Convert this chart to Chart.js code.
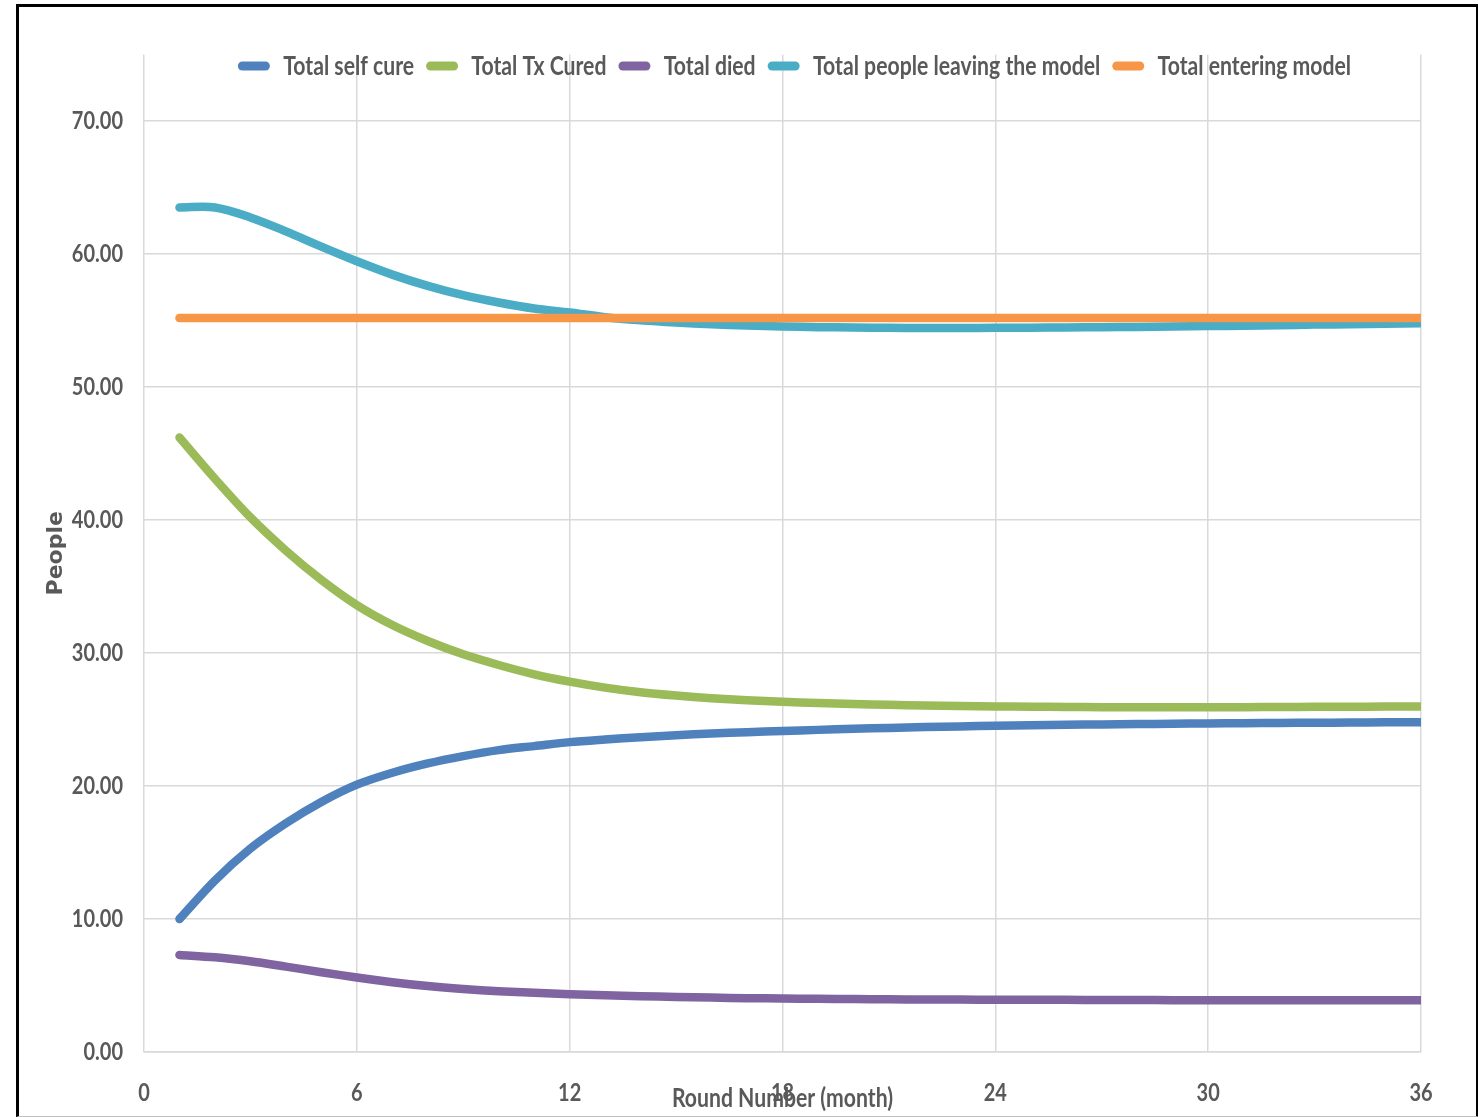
<!DOCTYPE html>
<html>
<head>
<meta charset="utf-8">
<script src="https://cdn.jsdelivr.net/npm/chart.js@4/dist/chart.umd.min.js"></script>
<style>
  html, body { margin: 0; padding: 0; background: #ffffff; }
  #wrap { position: relative; width: 1478px; height: 1117px; overflow: hidden; }
  #chart { position: absolute; left: 0; top: 0; }
  #frame {
    position: absolute; left: 16px; top: 4px; width: 1457px; height: 1109px;
    border-left: 3px solid #000; border-top: 3px solid #000; border-right: 3px solid #000;
    border-bottom: 1px solid #bfbfbf; pointer-events: none;
  }
</style>
</head>
<body>
<div id="wrap">
  <canvas id="chart" width="1478" height="1117"></canvas>
  <div id="frame"></div>
</div>
<script>
// Round number (month)
const months = [1, 2, 3, 4, 5, 6, 7, 8, 9, 10, 11, 12, 13, 14, 15, 16, 17, 18,
                19, 20, 21, 22, 23, 24, 25, 26, 27, 28, 29, 30, 31, 32, 33, 34, 35, 36];

const seriesNames = ['Total self cure', 'Total Tx Cured', 'Total died',
                     'Total people leaving the model', 'Total entering model'];

const selfCure = [10.0, 12.9, 15.3, 17.2, 18.8, 20.1, 21.0, 21.7, 22.25, 22.7, 23.0, 23.3,
                  23.5, 23.67, 23.82, 23.95, 24.05, 24.14, 24.22, 24.3, 24.37, 24.43, 24.48, 24.53,
                  24.57, 24.6, 24.63, 24.66, 24.68, 24.7, 24.72, 24.74, 24.76, 24.77, 24.79, 24.8];

const txCured = [46.2, 43.1, 40.2, 37.7, 35.5, 33.6, 32.1, 30.9, 29.9, 29.1, 28.4, 27.85,
                 27.4, 27.05, 26.8, 26.6, 26.45, 26.33, 26.24, 26.16, 26.1, 26.05, 26.01, 25.98,
                 25.96, 25.94, 25.93, 25.92, 25.92, 25.92, 25.93, 25.94, 25.95, 25.96, 25.97, 25.98];

const died = [7.3, 7.12, 6.82, 6.42, 6.0, 5.6, 5.25, 4.96, 4.74, 4.57, 4.45, 4.35,
              4.27, 4.2, 4.14, 4.09, 4.05, 4.02, 4.0, 3.98, 3.96, 3.95, 3.94, 3.93,
              3.92, 3.92, 3.91, 3.91, 3.9, 3.9, 3.9, 3.9, 3.9, 3.9, 3.9, 3.9];

const leaving = [63.5, 63.5, 62.75, 61.7, 60.55, 59.45, 58.45, 57.6, 56.9, 56.35, 55.9, 55.6,
                 55.25, 55.02, 54.85, 54.72, 54.62, 54.55, 54.5, 54.47, 54.45, 54.44, 54.44, 54.45,
                 54.46, 54.48, 54.5, 54.52, 54.55, 54.58, 54.61, 54.65, 54.69, 54.72, 54.76, 54.8];

const entering = [55.19, 55.19, 55.19, 55.19, 55.19, 55.19, 55.19, 55.19, 55.19, 55.19, 55.19, 55.19,
                  55.19, 55.19, 55.19, 55.19, 55.19, 55.19, 55.19, 55.19, 55.19, 55.19, 55.19, 55.19,
                  55.19, 55.19, 55.19, 55.19, 55.19, 55.19, 55.19, 55.19, 55.19, 55.19, 55.19, 55.19];

const xTickStep = 6;
const yTickStep = 10;

const colors = ['#4F81BD', '#9BBB59', '#8064A2', '#4BACC6', '#F79646'];
const TEXT = '#595959';
const GRID = '#d9d9d9';
const LABEL_FAMILY = "Lato, 'Liberation Sans', sans-serif";
// horizontal compression applied to the narrow label face
const SQUEEZE = 0.8;

const canvas = document.getElementById('chart');
const ctx2d = canvas.getContext('2d');

// Condensed rendering for the Lato labels: glyphs are drawn and measured
// with a horizontal scale about their anchor point.
(function condenseLabels(ctx) {
  const fill = ctx.fillText;
  const measure = ctx.measureText;
  const isNarrow = c => c.font.indexOf('Lato') !== -1;
  ctx.fillText = function (text, x, y, maxWidth) {
    if (!isNarrow(this)) return fill.call(this, text, x, y, maxWidth);
    this.save();
    this.translate(x, y);
    this.scale(SQUEEZE, 1);
    fill.call(this, text, 0, 0);
    this.restore();
  };
  ctx.measureText = function (text) {
    const m = measure.call(this, text);
    if (!isNarrow(this)) return m;
    return {
      width: m.width * SQUEEZE,
      actualBoundingBoxLeft: m.actualBoundingBoxLeft * SQUEEZE,
      actualBoundingBoxRight: m.actualBoundingBoxRight * SQUEEZE,
      actualBoundingBoxAscent: m.actualBoundingBoxAscent,
      actualBoundingBoxDescent: m.actualBoundingBoxDescent,
      fontBoundingBoxAscent: m.fontBoundingBoxAscent,
      fontBoundingBoxDescent: m.fontBoundingBoxDescent
    };
  };
})(ctx2d);

const allSeries = [selfCure, txCured, died, leaving, entering];

const datasets = allSeries.map((vals, i) => ({
  label: seriesNames[i],
  data: months.map((m, k) => ({ x: m, y: vals[k] })),
  borderColor: colors[i],
  backgroundColor: colors[i],
  borderWidth: 8.5,
  borderCapStyle: 'round',
  borderJoinStyle: 'round',
  pointRadius: 0,
  pointHoverRadius: 0,
  tension: 0.33,
  fill: false,
  // later series are painted above earlier ones
  order: allSeries.length - i
}));

// Places the legend row inside the top of the plot area
const legendInside = {
  id: 'legendInside',
  afterLayout(chart) {
    const lg = chart.legend;
    if (!lg) return;
    const h = lg.bottom - lg.top;
    lg.top = 40.75;
    lg.bottom = lg.top + h;
    lg.left += 12;
    lg.right += 12;
  }
};

const tickFont = { family: LABEL_FAMILY, size: 25, weight: 'bold' };
const textFont = { family: LABEL_FAMILY, size: 26.5, weight: 'bold' };

new Chart(ctx2d, {
  type: 'line',
  data: { datasets },
  plugins: [legendInside],
  options: {
    responsive: false,
    animation: false,
    events: [],
    layout: { padding: { left: 0, right: 57, top: 6, bottom: 0 } },
    plugins: {
      tooltip: { enabled: false },
      legend: {
        position: 'top',
        align: 'center',
        fullSize: false,
        labels: {
          color: TEXT,
          font: textFont,
          boxWidth: 32,
          boxHeight: 9,
          padding: 12,
          useBorderRadius: true,
          borderRadius: 4.5,
          sort: (a, b) => a.datasetIndex - b.datasetIndex,
          generateLabels(chart) {
            const items = Chart.defaults.plugins.legend.labels.generateLabels(chart);
            items.forEach(it => {
              const c = colors[it.datasetIndex];
              it.fillStyle = c;
              it.strokeStyle = c;
              it.lineWidth = 0;
              it.borderRadius = 4.5;
            });
            return items;
          }
        }
      }
    },
    scales: {
      x: {
        type: 'linear',
        min: 0,
        max: 36,
        afterFit(scale) { scale.height = 65; },
        ticks: {
          stepSize: xTickStep,
          color: TEXT,
          font: tickFont,
          padding: 26,
          maxRotation: 0
        },
        grid: { color: GRID, lineWidth: 1.5, drawTicks: false },
        border: { color: GRID, width: 1.5 },
        title: {
          display: true,
          text: 'Round Number (month)',
          color: TEXT,
          font: textFont,
          padding: { top: 0, bottom: 3 }
        }
      },
      y: {
        min: 0,
        max: 75,
        afterFit(scale) { scale.width = 144; },
        afterBuildTicks(scale) {
          scale.ticks = scale.ticks.filter(t => t.value % yTickStep === 0);
        },
        ticks: {
          stepSize: yTickStep,
          color: TEXT,
          font: tickFont,
          padding: 21,
          callback: v => Number(v).toFixed(2)
        },
        grid: { color: GRID, lineWidth: 1.5, drawTicks: false },
        border: { display: false },
        title: {
          display: true,
          text: 'People',
          color: TEXT,
          font: { family: "'DejaVu Sans', sans-serif", size: 22, weight: 'bold' },
          padding: { top: 43, bottom: 0 }
        }
      }
    }
  }
});
</script>
</body>
</html>
